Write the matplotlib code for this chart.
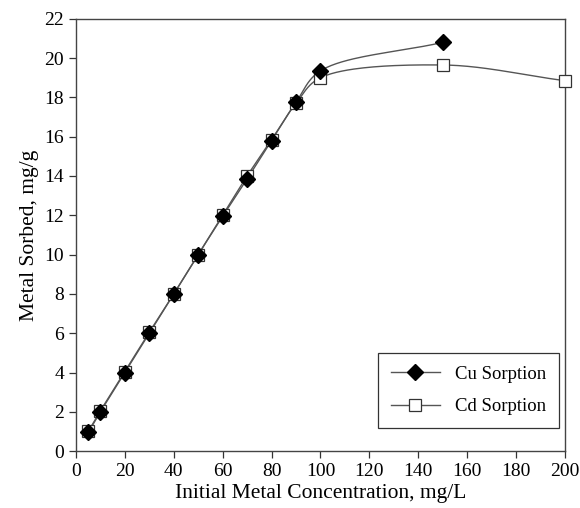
import numpy as np
import matplotlib
matplotlib.use("Agg")
import matplotlib.pyplot as plt

plt.rcParams['font.family'] = ['Liberation Serif', 'DejaVu Serif']

cu_x = [5, 10, 20, 30, 40, 50, 60, 70, 80, 90, 100, 150]
cu_y = [0.95, 2.0, 4.0, 6.0, 8.0, 10.0, 11.95, 13.85, 15.8, 17.75, 19.35, 20.8]
cd_x = [5, 10, 20, 30, 40, 50, 60, 70, 80, 90, 100, 150, 200]
cd_y = [1.0, 2.05, 4.05, 6.05, 8.0, 10.0, 12.0, 14.0, 15.85, 17.7, 19.0, 19.65, 18.85]


def smooth(x, y, n=40, alpha=0.5):
    # centripetal Catmull-Rom through the points (spreadsheet-style smoothed line)
    # parameterised in display-ish units so the bend is not distorted by axis scale
    P = np.column_stack([np.asarray(x, float) / 200 * 489, np.asarray(y, float) / 22 * 432])
    P = np.vstack([2 * P[0] - P[1], P, 2 * P[-1] - P[-2]])
    out = []
    for i in range(1, len(P) - 2):
        p0, p1, p2, p3 = P[i - 1], P[i], P[i + 1], P[i + 2]
        t0 = 0.0
        t1 = t0 + np.linalg.norm(p1 - p0) ** alpha
        t2 = t1 + np.linalg.norm(p2 - p1) ** alpha
        t3 = t2 + np.linalg.norm(p3 - p2) ** alpha
        t = np.linspace(t1, t2, n)[:, None]
        a1 = (t1 - t) / (t1 - t0) * p0 + (t - t0) / (t1 - t0) * p1
        a2 = (t2 - t) / (t2 - t1) * p1 + (t - t1) / (t2 - t1) * p2
        a3 = (t3 - t) / (t3 - t2) * p2 + (t - t2) / (t3 - t2) * p3
        b1 = (t2 - t) / (t2 - t0) * a1 + (t - t0) / (t2 - t0) * a2
        b2 = (t3 - t) / (t3 - t1) * a2 + (t - t1) / (t3 - t1) * a3
        out.append((t2 - t) / (t2 - t1) * b1 + (t - t1) / (t2 - t1) * b2)
    c = np.vstack(out)
    return c[:, 0] / 489 * 200, c[:, 1] / 432 * 22


fig = plt.figure(figsize=(5.8, 5.08), dpi=100)
ax = fig.add_axes([0.131, 0.112, 0.843, 0.851])

line_col = '#555555'
sx, sy = smooth(cu_x, cu_y)
ax.plot(sx, sy, color=line_col, lw=1.0, zorder=2)
sx, sy = smooth(cd_x, cd_y)
ax.plot(sx, sy, color=line_col, lw=1.0, zorder=2)

ax.plot(cd_x, cd_y, ls='none', marker='s', ms=9, mfc='white', mec='#333333',
        mew=0.9, zorder=3, clip_on=False)
ax.plot(cu_x, cu_y, ls='none', marker='D', ms=8, mfc='black', mec='black',
        zorder=4)

# legend proxies
h1, = ax.plot([], [], color=line_col, lw=1.0, marker='D', ms=8, mfc='black', mec='black')
h2, = ax.plot([], [], color=line_col, lw=1.0, marker='s', ms=9, mfc='white', mec='#333333', mew=0.9)
leg = ax.legend([h1, h2], ['Cu Sorption', 'Cd Sorption'], loc='lower right',
                bbox_to_anchor=(0.988, 0.053), borderaxespad=0, fontsize=13.5,
                fancybox=False, framealpha=1, edgecolor='#333333',
                handlelength=2.6, borderpad=0.7, labelspacing=0.8,
                handletextpad=0.8)
leg.get_frame().set_linewidth(0.9)

ax.set_xlim(0, 200)
ax.set_ylim(0, 22)
ax.set_xticks(np.arange(0, 201, 20))
ax.set_yticks(np.arange(0, 23, 2))
ax.tick_params(direction='out', length=5, width=0.9, labelsize=14, color='#333333')
for s in ax.spines.values():
    s.set_color('#444444')
    s.set_linewidth(1.0)

ax.set_xlabel('Initial Metal Concentration, mg/L', fontsize=15.5, labelpad=3)
ax.set_ylabel('Metal Sorbed, mg/g', fontsize=15.5, labelpad=4)

fig.savefig('out.png', dpi=100)
